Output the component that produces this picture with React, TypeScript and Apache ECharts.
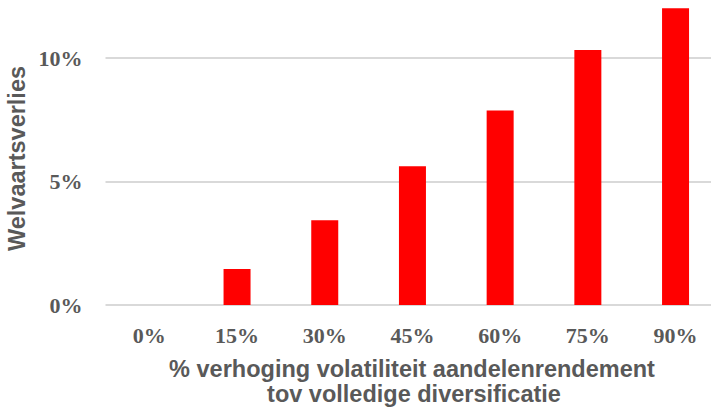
import React, { useEffect, useRef } from "react";
import * as echarts from "echarts";

// Welfare loss per increase in equity-return volatility
const categories = ["0%", "15%", "30%", "45%", "60%", "75%", "90%"];
const welfareLoss = [0, 1.46, 3.43, 5.62, 7.87, 10.32, 12.01];
const yTicks = [0, 5, 10, 15];
const yLabelMax = 10; // highest tick that gets a label
const xTitleLines = [
  "% verhoging volatiliteit aandelenrendement",
  "tov volledige diversificatie",
];
const yTitle = "Welvaartsverlies";

const GREY = "#595959";
const SERIF = "'Liberation Serif', 'Times New Roman', serif";
const SANS = "'Liberation Sans', Arial, sans-serif";

export default function App() {
  const ref = useRef<HTMLDivElement>(null);

  useEffect(() => {
    if (!ref.current) return;
    const chart = echarts.init(ref.current, undefined, { renderer: "svg" });
    chart.setOption({
      animation: false,
      backgroundColor: "#ffffff",
      grid: {
        left: 105.5,
        right: -8.4,
        top: -65.5,
        bottom: 104,
        containLabel: false,
        outerBoundsMode: "none",
      },
      xAxis: {
        type: "category",
        data: categories,
        axisLine: { show: false },
        axisTick: { show: false },
        axisLabel: {
          color: GREY,
          fontFamily: SERIF,
          fontWeight: "bold",
          fontSize: 22,
          verticalAlign: "middle",
          margin: 30,
        },
      },
      yAxis: {
        type: "value",
        min: yTicks[0],
        max: yTicks[yTicks.length - 1],
        interval: yTicks[1] - yTicks[0],
        axisLine: { show: false },
        axisTick: { show: false },
        splitLine: { lineStyle: { color: "#d9d9d9", width: 2 } },
        axisLabel: {
          color: GREY,
          fontFamily: SERIF,
          fontWeight: "bold",
          fontSize: 22,
          margin: 23,
          formatter: (v: number) => (v > yLabelMax ? "" : `${v}%`),
        },
      },
      series: [
        {
          type: "bar",
          data: welfareLoss,
          barWidth: 27,
          itemStyle: { color: "#ff0000" },
        },
      ],
      graphic: [
        {
          type: "text",
          x: 17,
          y: 158.5,
          rotation: Math.PI / 2,
          style: {
            text: yTitle,
            fill: GREY,
            font: `bold 23.5px ${SANS}`,
            textAlign: "center",
            textVerticalAlign: "middle",
          },
        },
        {
          type: "text",
          x: 412,
          y: 368.5,
          style: {
            text: xTitleLines[0],
            fill: GREY,
            font: `bold 23.5px ${SANS}`,
            textAlign: "center",
            textVerticalAlign: "middle",
          },
        },
        {
          type: "text",
          x: 414,
          y: 393.5,
          style: {
            text: xTitleLines[1],
            fill: GREY,
            font: `bold 23.5px ${SANS}`,
            textAlign: "center",
            textVerticalAlign: "middle",
          },
        },
      ],
    });
    return () => chart.dispose();
  }, []);

  return (
    <div
      ref={ref}
      style={{ position: "fixed", left: 0, top: 0, width: 711, height: 409 }}
    />
  );
}
